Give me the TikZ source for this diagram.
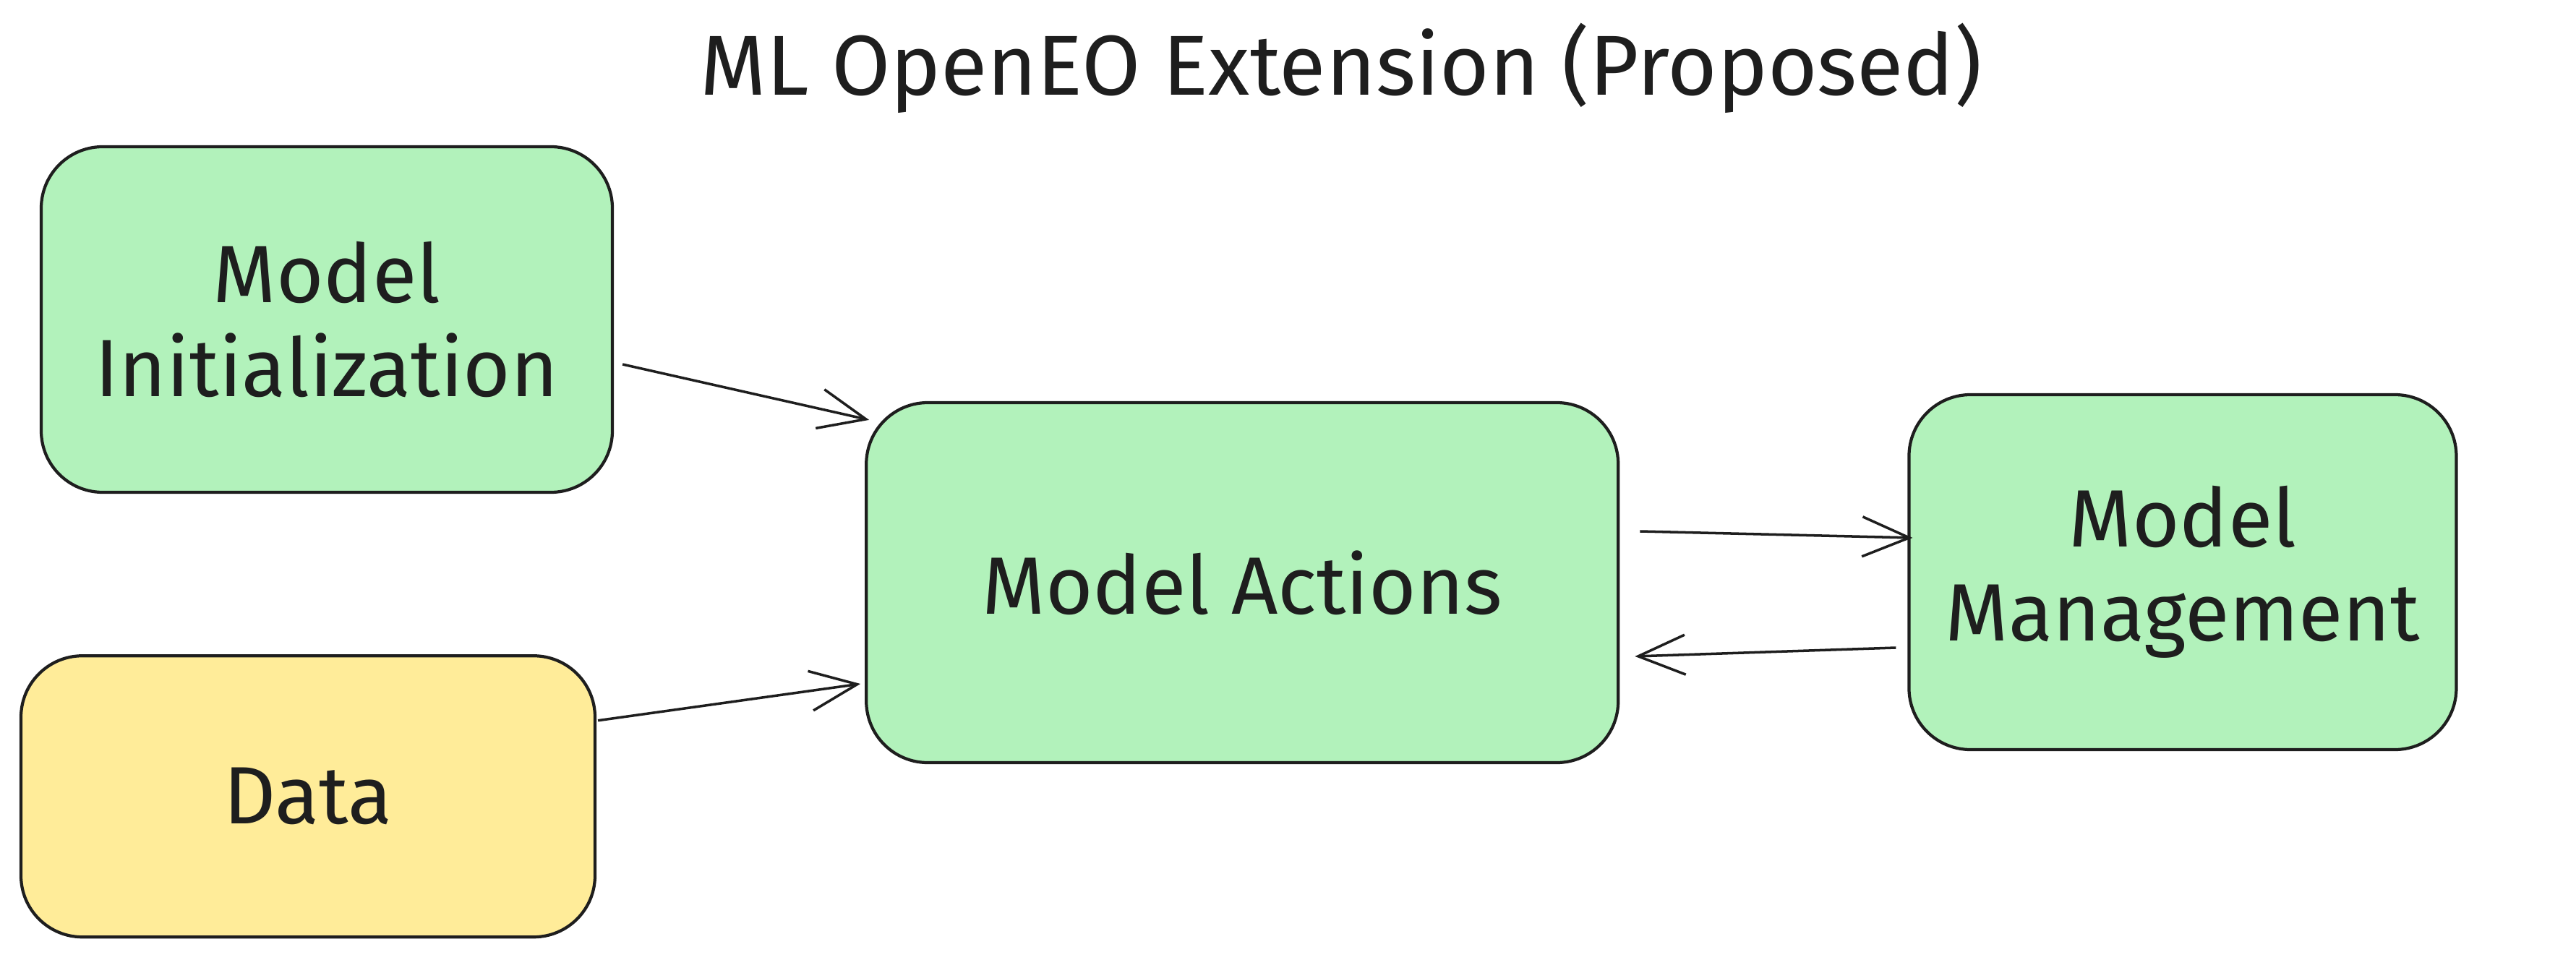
\documentclass[tikz,border=0pt]{standalone}
\usepackage{fontspec}
\setmainfont{Fira Sans}
\usetikzlibrary{arrows.meta, positioning}
\definecolor{inkblack}{HTML}{1E1E1E}
\definecolor{boxgreen}{HTML}{B2F2BB}
\definecolor{boxyellow}{HTML}{FFEC99}
\tikzset{
  block/.style={draw=inkblack, line width=1.2pt, rounded corners=0.85cm, inner sep=0pt,
    align=center, text=inkblack, font=\fontsize{32}{37}\selectfont},
  flow/.style={-{Straight Barb[length=0.65cm, width=0.55cm]}, color=inkblack, line width=1pt},
}

\begin{document}
\begin{tikzpicture}
	\useasboundingbox (0,0) rectangle (35.63,-13.46);
	\node (title) [anchor=base, text=inkblack, font=\fontsize{33.5}{40}\selectfont] at (18.55,-1.32) {ML OpenEO Extension (Proposed)};
	\node (init) [block, fill=boxgreen, minimum width=7.9cm, minimum height=4.78cm] at (4.52,-4.42) {Model\\Initialization};
	\node (data) [block, fill=boxyellow, minimum width=7.94cm, minimum height=3.89cm, below=2.22cm of init, xshift=-0.26cm] {Data};
	\node (acts) [block, fill=boxgreen, minimum width=10.4cm, minimum height=4.98cm, right=3.47cm of init, yshift=-3.64cm] {Model Actions};
	\node (mgmt) [block, fill=boxgreen, minimum width=7.57cm, minimum height=4.91cm, right=3.98cm of acts, yshift=0.145cm] {Model\\Management};
	\path [flow]
	([xshift=0.12cm, yshift=-0.62cm]init.east) edge ([xshift=0.06cm, yshift=-0.26cm]acts.north west)
	([xshift=0.02cm, yshift=1.05cm]data.east) edge ([xshift=-0.06cm, yshift=-1.4cm]acts.west)
	([xshift=0.28cm, yshift=0.71cm]acts.east) edge ([xshift=0.07cm, yshift=0.475cm]mgmt.west)
	([xshift=-0.16cm, yshift=-1.045cm]mgmt.west) edge ([xshift=0.21cm, yshift=-1.02cm]acts.east)
	;
\end{tikzpicture}
\end{document}
